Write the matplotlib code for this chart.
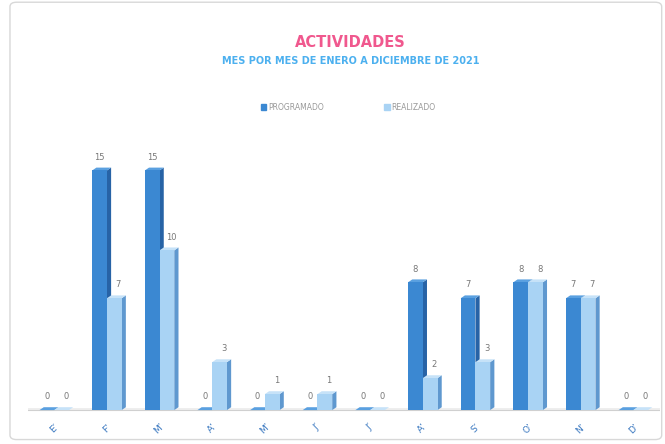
import matplotlib.pyplot as plt
import numpy as np
from matplotlib.patches import Polygon, FancyBboxPatch


months = ["E", "F", "M", "A", "M", "J", "J", "A", "S", "O", "N", "D"]
programado = [0, 15, 15, 0, 0, 0, 0, 8, 7, 8, 7, 0]
realizado = [0, 7, 10, 3, 1, 1, 0, 2, 3, 8, 7, 0]

PROG_FRONT = "#3b88d2"
PROG_SIDE = "#2763a6"
PROG_TOP = "#5aa0e0"
REAL_FRONT = "#a9d3f4"
REAL_SIDE = "#5f98cf"
REAL_TOP = "#c6e2f8"


def bar3d(ax, xs, heights, width, front, side, top, dx=0.08, dy=0.18):
    ax.bar(xs, heights, width=width, color=front, edgecolor="none", zorder=3)
    for x, h in zip(xs, heights):
        r = x + width / 2
        l = x - width / 2
        ax.add_patch(Polygon([(r, 0), (r + dx, dy), (r + dx, h + dy), (r, h)],
                             closed=True, color=side, lw=0, zorder=2))
        ax.add_patch(Polygon([(l, h), (r, h), (r + dx, h + dy), (l + dx, h + dy)],
                             closed=True, color=top, lw=0, zorder=2))


def main():
    fig = plt.figure(figsize=(6.65, 4.44), dpi=100)

    # light outer frame
    fig.patches.append(FancyBboxPatch((0.015, 0.01), 0.98, 0.985,
                                      boxstyle="round,pad=0,rounding_size=0.01",
                                      transform=fig.transFigure, fill=False,
                                      edgecolor="#d8d8d8", lw=1.0))

    ax = fig.add_axes([0.042, 0.062, 0.95, 0.608])
    x = np.arange(len(months))
    w = 0.28

    # floor
    ax.fill_between([-0.5, 11.5], [-0.05, -0.05], [0.15, 0.15],
                    color="#eeeeee", zorder=1, lw=0)
    ax.axhline(0, color="#d0d0d0", lw=0.8, zorder=1)

    bar3d(ax, x - w / 2, programado, w, PROG_FRONT, PROG_SIDE, PROG_TOP)
    bar3d(ax, x + w / 2, realizado, w, REAL_FRONT, REAL_SIDE, REAL_TOP)

    for xi, p, r in zip(x, programado, realizado):
        ax.text(xi - w / 2, p + 0.55, str(p), ha="center", va="bottom",
                fontsize=6, color="#777777")
        ax.text(xi + w / 2 + 0.08, r + 0.55, str(r), ha="center", va="bottom",
                fontsize=6, color="#777777")

    ax.set_xlim(-0.5, 11.5)
    ax.set_ylim(-0.4, 16.5)
    ax.set_xticks(x)
    ax.set_xticklabels([m + "\u2019" for m in months], rotation=45,
                       fontsize=6.5, color="#3a78c0")
    ax.tick_params(axis="x", length=0, pad=4)
    ax.set_yticks([])
    for s in ax.spines.values():
        s.set_visible(False)

    fig.text(0.527, 0.905, "ACTIVIDADES", ha="center", va="center",
             fontsize=10.5, fontweight="bold", color="#f0588e")
    fig.text(0.527, 0.862, "MES POR MES DE ENERO A DICIEMBRE DE 2021",
             ha="center", va="center", fontsize=7, fontweight="bold",
             color="#4cb0ef")

    # legend
    fig.patches.append(plt.Rectangle((0.392, 0.753), 0.008, 0.012,
                                     transform=fig.transFigure, color=PROG_FRONT))
    fig.text(0.403, 0.759, "PROGRAMADO", ha="left", va="center",
             fontsize=5.5, color="#999999")
    fig.patches.append(plt.Rectangle((0.578, 0.753), 0.008, 0.012,
                                     transform=fig.transFigure, color=REAL_FRONT))
    fig.text(0.589, 0.759, "REALIZADO", ha="left", va="center",
             fontsize=5.5, color="#999999")

    fig.savefig("out.png", dpi=100)
    plt.close(fig)


if __name__ == "__main__":
    main()
